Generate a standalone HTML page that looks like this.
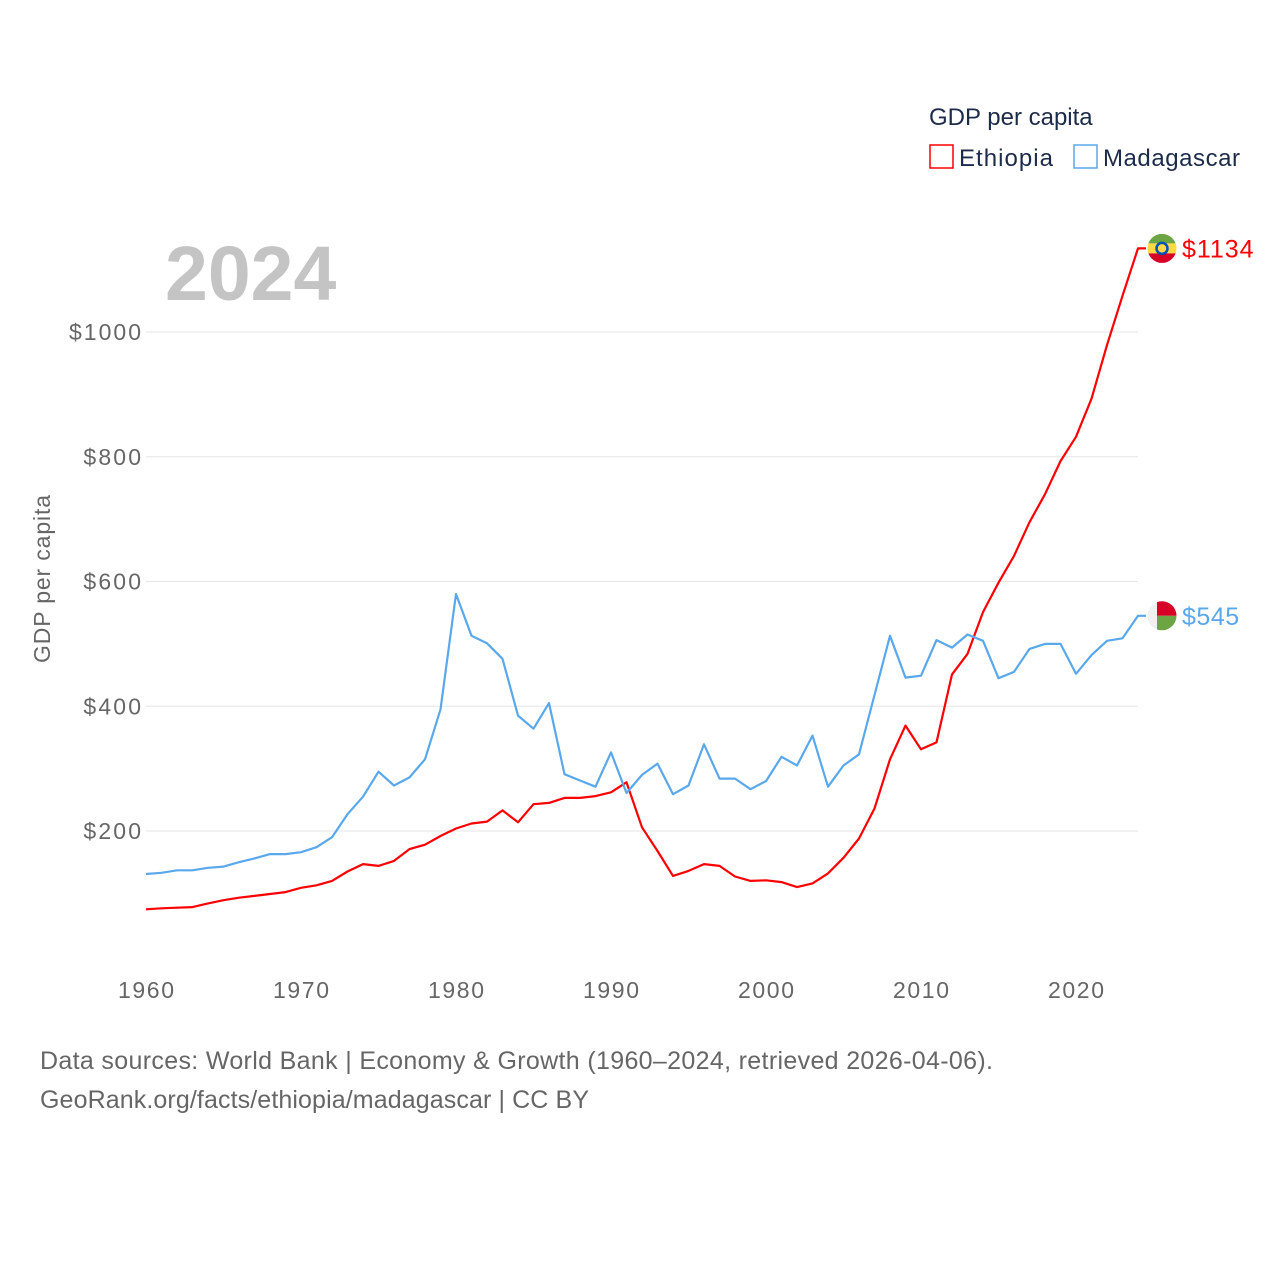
<!DOCTYPE html>
<html><head><meta charset="utf-8"><style>
html,body{margin:0;padding:0;background:#fff;}
svg{display:block;font-family:"Liberation Sans",sans-serif;}
</style></head><body>
<svg id="chart" width="1280" height="1280" viewBox="0 0 1280 1280">
<text x="929" y="125" font-size="24" fill="#1c2b4a">GDP per capita</text>
<g>
<rect x="930" y="145" width="23" height="23" fill="none" stroke="#ff0000" stroke-width="1.5"/>
<text x="959" y="166" font-size="24" fill="#1c2b4a" textLength="94">Ethiopia</text></g>
<g>
<rect x="1074" y="145" width="23" height="23" fill="none" stroke="#5aa8ec" stroke-width="1.5"/>
<text x="1103" y="166" font-size="24" fill="#1c2b4a" textLength="137">Madagascar</text></g>
<text x="165" y="300" font-size="77" font-weight="bold" fill="#c4c4c4">2024</text>
<text transform="translate(50,579) rotate(-90)" text-anchor="middle" font-size="23" fill="#666" textLength="168">GDP per capita</text>
<g id="grid"></g><g id="yticks"></g><g id="xticks"></g><g id="series"></g>
<text x="40" y="1069" font-size="25" fill="#666" textLength="953">Data sources: World Bank | Economy &amp; Growth (1960–2024, retrieved 2026-04-06).</text>
<text x="40" y="1108" font-size="25" fill="#666" textLength="549">GeoRank.org/facts/ethiopia/madagascar | CC BY</text>
</svg>
<script>
const years=[];for(let y=1960;y<=2024;y++)years.push(y);
const ethiopia=[74.5,76,77,78,84,89,93,96,99,102,109,113,120,135,147,144,152,171,178,192,204,212,215,233,214,243,245,253,253,256,262,278,206,168,128,136,147,144,127,120,121,118,110,116,132,157,188,236,315,369,331,342,451,484,551,598,641,695,740,793,832,893,979,1058,1134];
const madagascar=[131,133,137,137,141,143,150,156,163,163,166,174,190,227,255,295,273,286,315,395,580,513,501,476,385,364,405,291,281,271,326,261,290,308,259,273,339,284,284,267,280,319,305,353,271,305,323,418,513,446,449,506,494,515,505,445,455,492,500,500,452,482,505,509,545];
const yTicks=[200,400,600,800,1000];
const xTicks=[1960,1970,1980,1990,2000,2010,2020];
const NS="http://www.w3.org/2000/svg";
const X=yr=>146+(yr-1960)*15.5;
const Y=v=>955.75-v*0.62375;
function mk(tag,attrs,parent,txt){const e=document.createElementNS(NS,tag);for(const k in attrs)e.setAttribute(k,attrs[k]);if(txt!==undefined)e.textContent=txt;document.getElementById(parent).appendChild(e);return e;}
yTicks.forEach(v=>{
 const l=mk('line',{x1:146,x2:1138,y1:Y(v),y2:Y(v),stroke:'#e6e6e6','stroke-width':1},'grid');
 
 
 const s='$'+v;
 const t=mk('text',{x:141,y:Y(v)+8,'text-anchor':'end','font-size':23,fill:'#666',textLength:s.length*14.4},'yticks',s);
 
 
});
xTicks.forEach(yr=>{
 const t=mk('text',{x:X(yr),y:998,'text-anchor':'middle','font-size':23,fill:'#666',textLength:56},'xticks',String(yr));
 
 
});
function draw(vals,color,name){
 let d=vals.map((v,i)=>(i?'L':'M')+X(years[i]).toFixed(1)+' '+Y(v).toFixed(1)).join(' ');
 const last=vals[vals.length-1],lx=X(years[years.length-1]),ly=Y(last);
 d+=' L'+(lx+8)+' '+ly.toFixed(1);
 const p=mk('path',{d:d,fill:'none',stroke:color,'stroke-width':2.2,'stroke-linejoin':'round'},'series');
 
 
 const s='$'+Math.round(last);
 const t=mk('text',{x:1182,y:ly+9,'font-size':25,fill:color,textLength:s.length*14.3},'series',s);
 
 
 return ly;
}
const ey=draw(ethiopia,'#ff0000','ethiopia');
const my=draw(madagascar,'#5aa8ec','madagascar');
function flag(cy,name,parts){
 const g=mk('g',{},'series');
 
 
 const id='c'+name;
 const cp=document.createElementNS(NS,'clipPath');cp.setAttribute('id',id);
 const c=document.createElementNS(NS,'circle');c.setAttribute('cx',1162);c.setAttribute('cy',cy);c.setAttribute('r',14.5);cp.appendChild(c);g.appendChild(cp);
 parts.forEach(pp=>{const r=document.createElementNS(NS,'rect');for(const k in pp)r.setAttribute(k,pp[k]);r.setAttribute('clip-path','url(#'+id+')');g.appendChild(r);});
 return g;
}
const fe=flag(ey,'ethiopia',[{x:1147,y:ey-15,width:30,height:10,fill:'#6da544'},{x:1147,y:ey-5,width:30,height:10,fill:'#ffda44'},{x:1147,y:ey+5,width:30,height:10,fill:'#d80027'}]);
const ce=document.createElementNS(NS,'circle');ce.setAttribute('cx',1162);ce.setAttribute('cy',ey);ce.setAttribute('r',5.5);ce.setAttribute('fill','#ffda44');ce.setAttribute('stroke','#0052b4');ce.setAttribute('stroke-width',2.5);fe.appendChild(ce);
flag(my,'madagascar',[{x:1147,y:my-15,width:10,height:30,fill:'#f0f0f0'},{x:1157,y:my-15,width:20,height:15,fill:'#d80027'},{x:1157,y:my,width:20,height:15,fill:'#6da544'}]);
</script>
</body></html>
